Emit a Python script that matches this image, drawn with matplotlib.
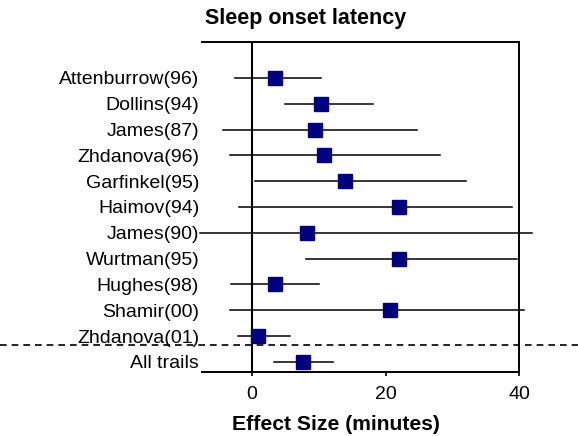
import matplotlib
matplotlib.use('Agg')
import matplotlib.pyplot as plt

studies = ['Attenburrow(96)', 'Dollins(94)', 'James(87)', 'Zhdanova(96)',
           'Garfinkel(95)', 'Haimov(94)', 'James(90)', 'Wurtman(95)',
           'Hughes(98)', 'Shamir(00)', 'Zhdanova(01)', 'All trails']
effect = [3.4, 10.3, 9.5, 10.8, 13.9, 22.0, 8.3, 22.0, 3.4, 20.7, 0.95, 7.7]
ci_low = [-2.6, 5.0, -4.3, -3.3, 0.5, -1.9, -7.8, 8.1, -3.2, -3.3, -2.1, 3.3]
ci_high = [10.4, 18.1, 24.7, 28.2, 32.0, 38.9, 42.0, 39.7, 10.0, 40.8, 5.7, 12.2]
xticks = [0, 20, 40]


def main():
    plt.rcParams['font.family'] = ['Liberation Sans', 'DejaVu Sans']
    fig = plt.figure(figsize=(5.78, 4.36), dpi=100)
    ax = fig.add_axes([0.3495, 0.1475, 0.5484, 0.7555])

    ypos = list(range(len(studies)))
    for y, lo, hi in zip(ypos, ci_low, ci_high):
        ax.plot([lo, hi], [y, y], color='black', lw=1.1, clip_on=False, zorder=2)
    ax.plot(effect, ypos, 's', color='#00007f', markersize=10, zorder=3, clip_on=False)

    ax.axvline(0, color='black', lw=1.5, zorder=1)

    ax.set_xlim(-7.5, 40)
    ax.set_ylim(11.38, -1.38)
    ax.spines['left'].set_visible(False)
    for s in ['top', 'right', 'bottom']:
        ax.spines[s].set_linewidth(1.4)

    ax.set_xticks(xticks)
    ax.set_xticklabels([str(t) for t in xticks], fontsize=14)
    ax.tick_params(axis='x', length=3, width=1.2, pad=7)
    ax.set_yticks(ypos)
    ax.set_yticklabels(studies, fontsize=14)
    ax.tick_params(axis='y', length=0, pad=2)

    # dashed separator across the whole figure
    ydash = ax.transData.transform((0, 10.33))[1]
    yfig = fig.transFigure.inverted().transform((0, ydash))[1]
    fig.add_artist(plt.Line2D([0, 1], [yfig, yfig], color='black', lw=1.2,
                              linestyle=(0, (4, 3)), transform=fig.transFigure))

    fig.text(0.528, 0.957, 'Sleep onset latency', ha='center', va='center',
             fontsize=15.5, fontweight='bold')
    fig.text(0.582, 0.027, 'Effect Size (minutes)', ha='center', va='center',
             fontsize=15.2, fontweight='bold')

    fig.savefig('out.png', dpi=100)


if __name__ == '__main__':
    main()
